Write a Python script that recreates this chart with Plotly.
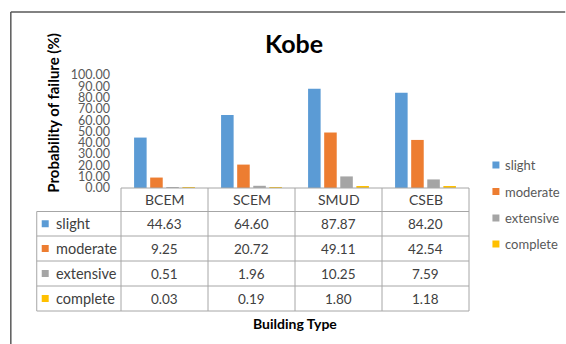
import plotly.graph_objects as go

categories = ["BCEM", "SCEM", "SMUD", "CSEB"]
series_names = ["slight", "moderate", "extensive", "complete"]
slight = [44.63, 64.60, 87.87, 84.20]
moderate = [9.25, 20.72, 49.11, 42.54]
extensive = [0.51, 1.96, 10.25, 7.59]
complete = [0.03, 0.19, 1.80, 1.18]
series_values = [slight, moderate, extensive, complete]
colors = ["#5B9BD5", "#ED7D31", "#A5A5A5", "#FFC000"]
y_ticks = [0, 10, 20, 30, 40, 50, 60, 70, 80, 90, 100]

W, H = 566, 344
L, R, T, B = 120.5, 469.5, 75, 188  # plot area in pixels
FONT = "Lato, Carlito, Calibri, sans-serif"


def px(x):
    return (x - L) / (R - L)


def py(y):
    return (B - y) / (B - T)


fig = go.Figure()
for name, vals, col in zip(series_names, series_values, colors):
    fig.add_trace(go.Bar(x=categories, y=vals, name=name, marker_color=col,
                         marker_line_width=0, showlegend=False))

shapes = []
annotations = []
line_col = "#A6A6A6"

# outer chart border (top and left visible)
shapes.append(dict(type="line", xref="paper", yref="paper", x0=px(10), x1=px(566), y0=py(12), y1=py(12),
                   line=dict(color="#595959", width=1.5)))
shapes.append(dict(type="line", xref="paper", yref="paper", x0=px(10), x1=px(10), y0=py(12), y1=py(344),
                   line=dict(color="#595959", width=1.5)))

# table geometry
row_edges = [188, 211.5, 236, 261, 286, 311]
col_w = (R - L) / len(categories)
col_edges = [L + i * col_w for i in range(len(categories) + 1)]
tbl_left = 36

# horizontal lines
shapes.append(dict(type="line", xref="paper", yref="paper", x0=px(L), x1=px(R), y0=py(row_edges[0]), y1=py(row_edges[0]),
                   line=dict(color=line_col, width=1)))
for yy in row_edges[1:]:
    shapes.append(dict(type="line", xref="paper", yref="paper", x0=px(tbl_left), x1=px(R), y0=py(yy), y1=py(yy),
                       line=dict(color=line_col, width=1)))
# vertical lines
for xx in col_edges:
    shapes.append(dict(type="line", xref="paper", yref="paper", x0=px(xx), x1=px(xx), y0=py(row_edges[0]), y1=py(row_edges[-1]),
                       line=dict(color=line_col, width=1)))
shapes.append(dict(type="line", xref="paper", yref="paper", x0=px(tbl_left), x1=px(tbl_left), y0=py(row_edges[1]), y1=py(row_edges[-1]),
                   line=dict(color=line_col, width=1)))

# header
for i, c in enumerate(categories):
    annotations.append(dict(xref="paper", yref="paper", x=px((col_edges[i] + col_edges[i + 1]) / 2),
                            y=py((row_edges[0] + row_edges[1]) / 2), text=c, showarrow=False,
                            font=dict(family=FONT, size=14, color="#404040"), xanchor="center", yanchor="middle"))
# rows
for r, (name, vals, col) in enumerate(zip(series_names, series_values, colors)):
    yc = (row_edges[r + 1] + row_edges[r + 2]) / 2
    shapes.append(dict(type="rect", xref="paper", yref="paper", x0=px(41), x1=px(48), y0=py(yc - 3.5), y1=py(yc + 3.5),
                       fillcolor=col, line=dict(width=0)))
    annotations.append(dict(xref="paper", yref="paper", x=px(53), y=py(yc), text=name, showarrow=False,
                            font=dict(family=FONT, size=14.5, color="#404040"), xanchor="left", yanchor="middle"))
    for i, v in enumerate(vals):
        annotations.append(dict(xref="paper", yref="paper", x=px((col_edges[i] + col_edges[i + 1]) / 2), y=py(yc),
                                text=f"{v:.2f}", showarrow=False,
                                font=dict(family=FONT, size=13.5, color="#404040"), xanchor="center", yanchor="middle"))

# legend
leg_y = [165, 191.5, 218, 244]
for name, col, yc in zip(series_names, colors, leg_y):
    shapes.append(dict(type="rect", xref="paper", yref="paper", x0=px(493), x1=px(500), y0=py(yc - 3.5), y1=py(yc + 3.5),
                       fillcolor=col, line=dict(width=0)))
    annotations.append(dict(xref="paper", yref="paper", x=px(504), y=py(yc), text=name, showarrow=False,
                            font=dict(family=FONT, size=13, color="#595959"), xanchor="left", yanchor="middle"))

# titles
annotations.append(dict(xref="paper", yref="paper", x=px(294), y=py(43), text="<b>Kobe</b>", showarrow=False,
                        font=dict(family=FONT, size=25, color="#000000"), xanchor="center", yanchor="middle"))
annotations.append(dict(xref="paper", yref="paper", x=px(295), y=py(323), text="<b>Building Type</b>", showarrow=False,
                        font=dict(family=FONT, size=14, color="#000000"), xanchor="center", yanchor="middle"))
annotations.append(dict(xref="paper", yref="paper", x=px(52), y=py(113), text="<b>Probability of failure (%)</b>",
                        showarrow=False, textangle=-90,
                        font=dict(family=FONT, size=15, color="#000000"), xanchor="center", yanchor="middle"))

fig.update_layout(
    width=W, height=H,
    margin=dict(l=L, r=W - R, t=T, b=H - B, pad=0),
    paper_bgcolor="white", plot_bgcolor="white",
    barmode="group", bargap=0.26, bargroupgap=0.22,
    shapes=shapes, annotations=annotations,
    xaxis=dict(showticklabels=False, showline=False, showgrid=False, zeroline=False, ticks="",
               range=[-0.5, 3.5], fixedrange=True),
    yaxis=dict(range=[0, 100], tickmode="array", tickvals=y_ticks,
               ticktext=[f"{v:.2f}" for v in y_ticks], showgrid=False, showline=False, zeroline=False,
               ticks="", ticklabelstandoff=10, tickfont=dict(family=FONT, size=12.5, color="#595959"),
               fixedrange=True),
    showlegend=False,
)

fig.write_html("out.html")
